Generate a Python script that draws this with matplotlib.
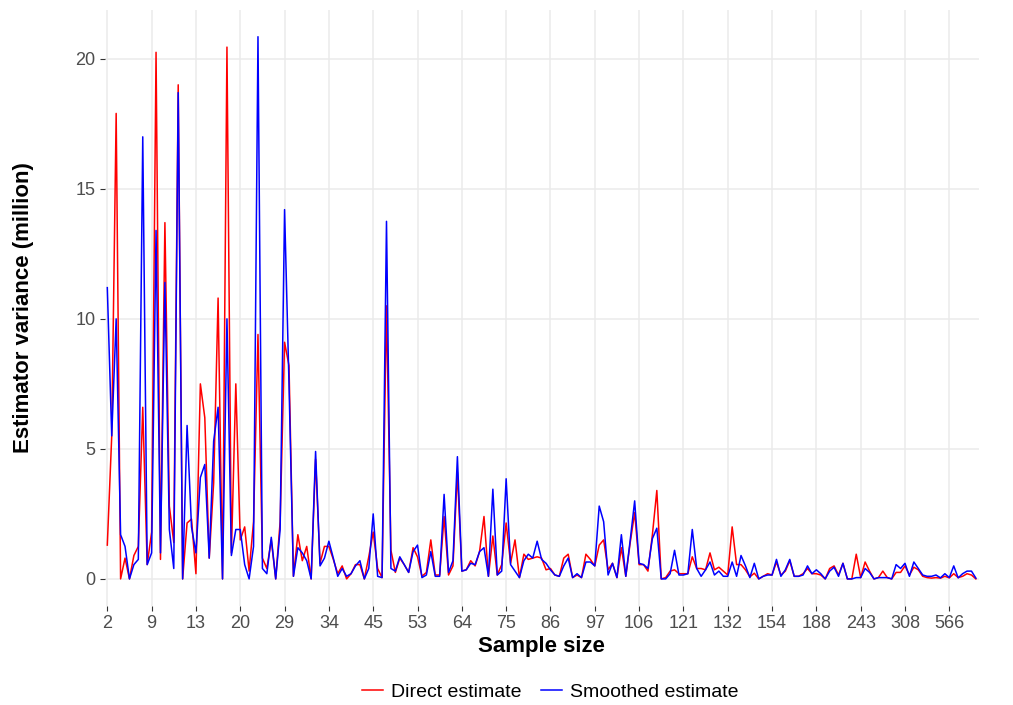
import numpy as np
import matplotlib
matplotlib.use("Agg")
import matplotlib.pyplot as plt
from matplotlib.lines import Line2D

plt.rcParams['font.family'] = ['Liberation Sans', 'DejaVu Sans']

# sample-size labels shown on the axis (every 10th category)
tick_labels = ["2", "9", "13", "20", "29", "34", "45", "53", "64", "75",
               "86", "97", "106", "121", "132", "154", "188", "243", "308", "566"]

# estimator variance (million), one value per sample-size category
direct = [
    1.3, 5.5, 17.9, 0.0, 0.8, 0.0, 0.9, 1.25, 6.6, 0.55,
    1.8, 20.25, 0.75, 13.7, 2.8, 1.4, 19.0, 0.0, 2.15, 2.3,
    0.2, 7.5, 6.2, 0.8, 3.7, 10.8, 0.0, 20.45, 1.0, 7.5,
    1.5, 2.0, 0.3, 2.2, 9.4, 0.8, 0.4, 1.5, 0.0, 2.2,
    9.1, 8.2, 0.1, 1.7, 0.7, 1.25, 0.0, 4.6, 0.6, 1.25,
    1.25, 0.75, 0.2, 0.5, 0.0, 0.2, 0.55, 0.55, 0.0, 0.85,
    1.8, 0.4, 0.05, 10.5, 1.1, 0.25, 0.8, 0.55, 0.25, 1.2,
    0.85, 0.1, 0.25, 1.5, 0.15, 0.15, 2.4, 0.15, 0.5, 4.1,
    0.3, 0.35, 0.7, 0.5, 1.05, 2.4, 0.1, 1.65, 0.15, 0.55,
    2.15, 0.6, 1.5, 0.05, 0.95, 0.75, 0.8, 0.85, 0.8, 0.35,
    0.4, 0.15, 0.1, 0.8, 0.95, 0.05, 0.15, 0.05, 0.95, 0.75,
    0.5, 1.3, 1.5, 0.35, 0.6, 0.05, 1.2, 0.1, 1.4, 2.55,
    0.55, 0.55, 0.3, 1.7, 3.4, 0.0, 0.05, 0.3, 0.35, 0.2,
    0.2, 0.2, 0.85, 0.4, 0.4, 0.35, 1.0, 0.35, 0.45, 0.3,
    0.15, 2.0, 0.55, 0.55, 0.35, 0.08, 0.22, 0.0, 0.1, 0.2,
    0.15, 0.65, 0.15, 0.3, 0.7, 0.1, 0.1, 0.2, 0.4, 0.2,
    0.2, 0.15, 0.0, 0.4, 0.5, 0.15, 0.6, 0.0, 0.0, 0.95,
    0.05, 0.65, 0.3, 0.0, 0.05, 0.3, 0.05, 0.0, 0.25, 0.25,
    0.5, 0.15, 0.45, 0.35, 0.1, 0.05, 0.03, 0.05, 0.03, 0.1,
    0.04, 0.2, 0.05, 0.1, 0.2, 0.15, 0.0,
]
smoothed = [
    11.2, 5.5, 10.0, 1.7, 1.25, 0.0, 0.55, 0.75, 17.0, 0.55,
    1.0, 13.4, 1.0, 11.4, 1.9, 0.4, 18.7, 0.0, 5.9, 2.0,
    1.0, 3.9, 4.4, 0.8, 5.3, 6.6, 0.0, 10.0, 0.9, 1.9,
    1.9, 0.55, 0.0, 1.25, 20.85, 0.4, 0.2, 1.6, 0.0, 1.9,
    14.2, 7.5, 0.1, 1.2, 1.0, 0.7, 0.0, 4.9, 0.5, 0.8,
    1.45, 0.8, 0.1, 0.4, 0.1, 0.2, 0.5, 0.7, 0.0, 0.4,
    2.5, 0.1, 0.05, 13.75, 0.4, 0.3, 0.85, 0.55, 0.25, 1.05,
    1.3, 0.05, 0.15, 1.05, 0.1, 0.1, 3.25, 0.25, 0.7, 4.7,
    0.3, 0.35, 0.6, 0.55, 1.05, 1.2, 0.1, 3.45, 0.15, 0.3,
    3.85, 0.55, 0.3, 0.05, 0.7, 0.95, 0.8, 1.45, 0.75, 0.6,
    0.35, 0.15, 0.1, 0.5, 0.8, 0.05, 0.2, 0.05, 0.65, 0.65,
    0.5, 2.8, 2.2, 0.15, 0.6, 0.05, 1.7, 0.1, 1.5, 3.0,
    0.6, 0.55, 0.4, 1.55, 1.95, 0.0, 0.0, 0.2, 1.1, 0.15,
    0.15, 0.2, 1.9, 0.4, 0.1, 0.35, 0.65, 0.15, 0.3, 0.1,
    0.1, 0.65, 0.1, 0.9, 0.5, 0.05, 0.6, 0.0, 0.1, 0.15,
    0.15, 0.75, 0.1, 0.35, 0.75, 0.1, 0.1, 0.15, 0.5, 0.2,
    0.35, 0.2, 0.0, 0.3, 0.45, 0.1, 0.6, 0.0, 0.0, 0.05,
    0.05, 0.4, 0.25, 0.0, 0.05, 0.05, 0.05, 0.0, 0.55, 0.4,
    0.6, 0.1, 0.65, 0.4, 0.15, 0.1, 0.1, 0.15, 0.04, 0.2,
    0.05, 0.5, 0.04, 0.2, 0.3, 0.3, 0.03,
]

n = len(direct)
x = np.arange(n)

fig = plt.figure(figsize=(10.13, 7.05), dpi=100)
ax = fig.add_axes([0.1033, 0.1404, 0.8627, 0.846])

ax.plot(x, direct, color="#FF0000", lw=1.1, label="Direct estimate")
ax.plot(x, smoothed, color="#0000FF", lw=1.1, label="Smoothed estimate")

ymax = max(max(direct), max(smoothed))
ax.set_xlim(-0.6, n - 1 + 0.6)
ax.set_ylim(-0.05 * ymax, ymax * 1.05)

ax.set_xticks(np.arange(0, n, 10)[:len(tick_labels)])
ax.set_xticklabels(tick_labels)
ax.set_yticks([0, 5, 10, 15, 20])

ax.grid(True, color="#EBEBEB", lw=1.1)
ax.set_axisbelow(True)
for s in ax.spines.values():
    s.set_visible(False)
ax.tick_params(axis="both", colors="#333333", length=3.5, width=0.8,
               labelsize=13, labelcolor="#4D4D4D", pad=3)

ax.set_xlabel("Sample size", fontsize=16, fontweight="bold", labelpad=3)
ax.set_ylabel("Estimator variance (million)", fontsize=16, fontweight="bold", labelpad=30)

handles = [Line2D([], [], color="#FF0000", lw=1.1), Line2D([], [], color="#0000FF", lw=1.1)]
fig.legend(handles, ["Direct estimate", "Smoothed estimate"], loc="center",
           bbox_to_anchor=(0.543, 0.018), ncol=2, frameon=False, fontsize=14,
           handlelength=1.1, columnspacing=1.0, handletextpad=0.4)

fig.savefig("out.png", dpi=100, facecolor="white")
